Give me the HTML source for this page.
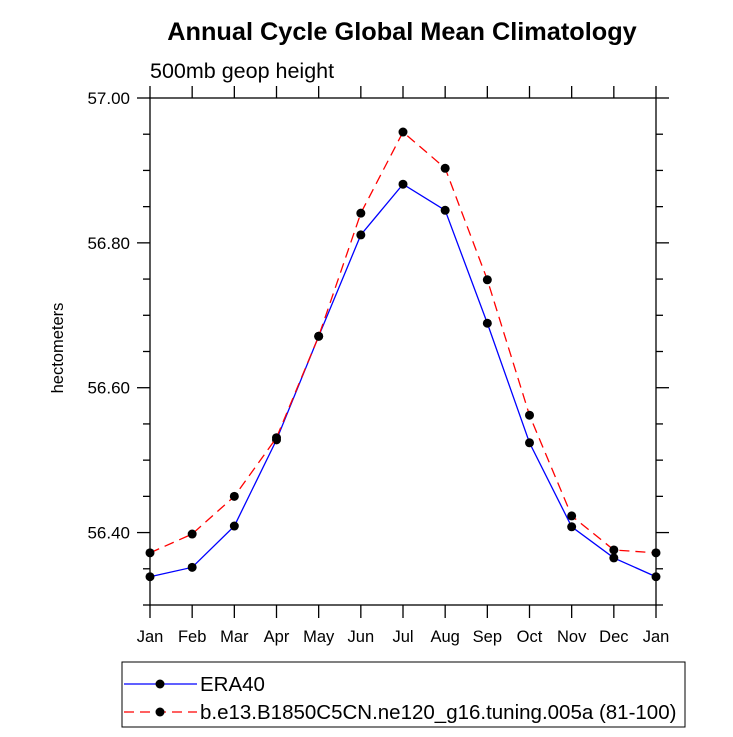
<!DOCTYPE html>
<html><head><meta charset="utf-8"><style>body{margin:0;background:#fff}svg{display:block;font-family:"Liberation Sans",sans-serif}</style></head>
<body>
<svg id="chart" width="733" height="737">
<text x="402" y="40" text-anchor="middle" font-size="25.3" font-weight="bold">Annual Cycle Global Mean Climatology</text>
<text x="150" y="78" font-size="21.5">500mb geop height</text>
<text transform="translate(63,348) rotate(-90)" text-anchor="middle" font-size="16.5">hectometers</text>
<g id="axes"></g><g id="series"></g>
<g>
<rect x="122" y="662" width="563" height="65" fill="none" stroke="#000" stroke-width="1"/>
<line x1="124" y1="684" x2="197" y2="684" stroke="#0000ff" stroke-width="1.3"/><circle cx="160" cy="684" r="4.5"/>
<text x="200" y="691" font-size="20.5">ERA40</text>
<line x1="124" y1="712" x2="197" y2="712" stroke="#ff0000" stroke-width="1.3" stroke-dasharray="10,6"/><circle cx="160" cy="712" r="4.5"/>
<text x="200" y="719" font-size="20.5">b.e13.B1850C5CN.ne120_g16.tuning.005a (81-100)</text>
</g>
</svg>
<script>
const months=["Jan","Feb","Mar","Apr","May","Jun","Jul","Aug","Sep","Oct","Nov","Dec","Jan"];
const era40=[56.339,56.352,56.409,56.528,56.671,56.811,56.881,56.845,56.689,56.524,56.408,56.365,56.339];
const model=[56.372,56.398,56.450,56.531,56.671,56.841,56.953,56.903,56.749,56.562,56.423,56.376,56.372];
const yTicks=[56.40,56.60,56.80,57.00];
const NS="http://www.w3.org/2000/svg";
const L=150,R=656,T=98,B=605,YMIN=56.3,YMAX=57.0;
const xs=i=>L+(R-L)*i/(months.length-1);
const ys=v=>B-(v-YMIN)/(YMAX-YMIN)*(B-T);
function mk(tag,at,parent){const e=document.createElementNS(NS,tag);for(const k in at)e.setAttribute(k,at[k]);parent.appendChild(e);return e;}
const ax=document.getElementById('axes');
const frame=mk('rect',{x:L,y:T,width:R-L,height:B-T,fill:'none',stroke:'#000','stroke-width':1.3},ax);


months.forEach((m,i)=>{const x=xs(i);
mk('line',{x1:x,y1:B,x2:x,y2:B+13,stroke:'#000','stroke-width':1.3},ax);
mk('line',{x1:x,y1:T,x2:x,y2:T-12,stroke:'#000','stroke-width':1.3},ax);
const t=mk('text',{x:x,y:B+37,'text-anchor':'middle','font-size':16.5},ax);t.textContent=m;

});
for(let v=YMIN;v<=YMAX+1e-6;v+=0.05){const y=ys(v);const maj=Math.abs(Math.round(v*5)-v*5)<1e-6;
const len=maj?13:7;
mk('line',{x1:L-len,y1:y,x2:L,y2:y,stroke:'#000','stroke-width':1.3},ax);
mk('line',{x1:R,y1:y,x2:R+len,y2:y,stroke:'#000','stroke-width':1.3},ax);}
yTicks.forEach(v=>{const t=mk('text',{x:L-20,y:ys(v)+6,'text-anchor':'end','font-size':17},ax);t.textContent=v.toFixed(2);

});
const sg=document.getElementById('series');
function draw(vals,color,dash,name){
const p=mk('polyline',{points:vals.map((v,i)=>xs(i)+','+ys(v)).join(' '),fill:'none',stroke:color,'stroke-width':1.3,'stroke-dasharray':dash},sg);


vals.forEach((v,i)=>{const c=mk('circle',{cx:xs(i),cy:ys(v),r:4.5,fill:'#000'},sg);

});}
draw(era40,'#0000ff','none','era40');
draw(model,'#ff0000','10,6','model');
</script>
</body></html>
